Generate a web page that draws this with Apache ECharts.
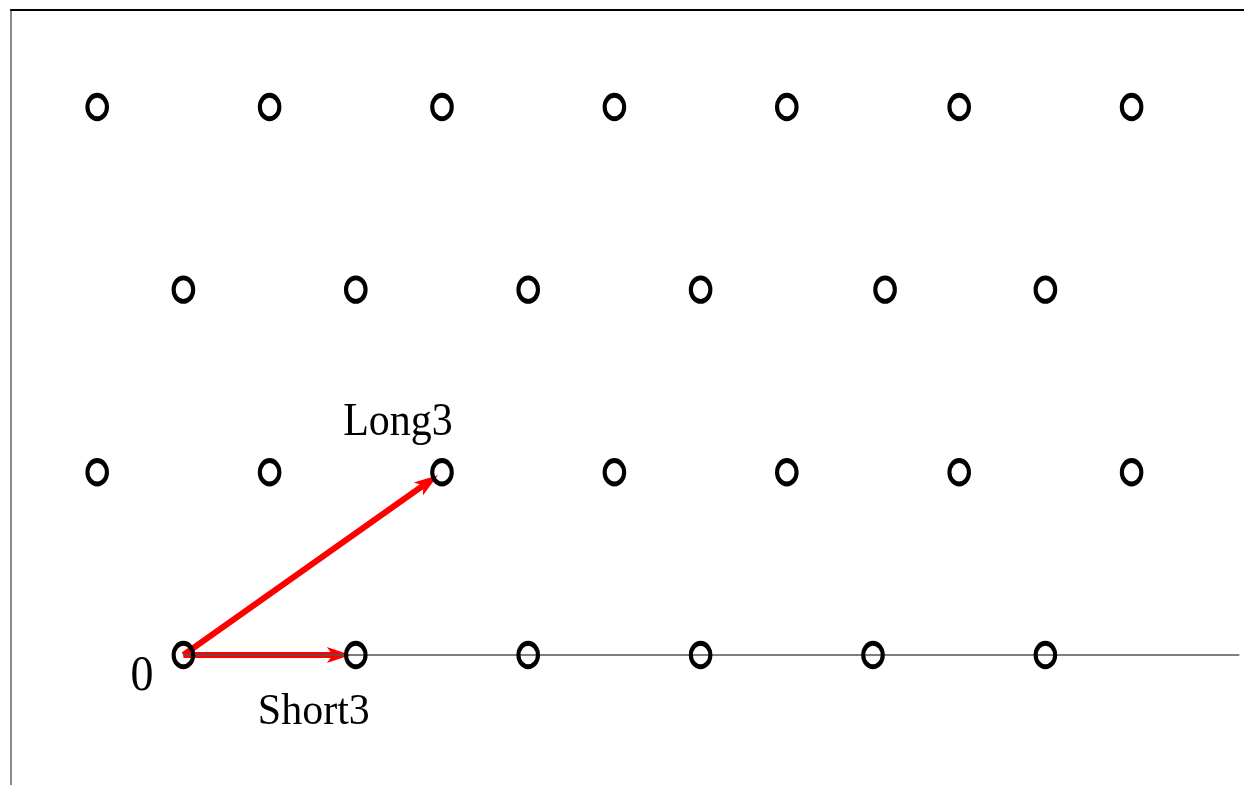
<!DOCTYPE html>
<html><head><meta charset="utf-8">
<script src="https://cdn.jsdelivr.net/npm/echarts@6/dist/echarts.min.js"></script>
<style>html,body{margin:0;padding:0;background:#fff}#chart{width:1244px;height:785px}</style>
</head><body><div id="chart"></div>
<script>
// Lattice points: x in column units, y in row units
const rowYs = [0, 1, 2, 3];
const rowXs = [
  [0, 1, 2, 3, 4, 5],                       // row y = 0
  [-0.5, 0.5, 1.5, 2.5, 3.5, 4.5, 5.5],     // row y = 1
  [0, 1, 2, 3, 4.07, 5],                    // row y = 2
  [-0.5, 0.5, 1.5, 2.5, 3.5, 4.5, 5.5]      // row y = 3
];
// Vectors from origin
const vectorNames = ['Short3', 'Long3'];
const vectorFrom = [[0, 0], [0, 0]];
const vectorTo = [[1, 0], [1.5, 1]];
const originLabel = '0';
const originPoint = [0, 0];
// Horizontal base line
const baseline = [[0, 0], [6.125, 0]];

const points = [];
rowYs.forEach((y, i) => rowXs[i].forEach(x => points.push([x, y])));
const vectors = vectorFrom.map((f, i) => [f[0], f[1], vectorTo[i][0], vectorTo[i][1]]);

// label anchors: [x, y, text, styleIndex]
const labelData = [
  [vectorTo[0][0], vectorTo[0][1], vectorNames[0], 0],
  [vectorTo[1][0], vectorTo[1][1], vectorNames[1], 1],
  [originPoint[0], originPoint[1], originLabel, 2]
];
const labelStyles = [
  {dx: -42, dy: 57, size: 42, sy: 1.05},
  {dx: -44, dy: -50, size: 42, sy: 1.12},
  {dx: -41.5, dy: 22, size: 46, sy: 1.08}
];

const chart = echarts.init(document.getElementById('chart'));
chart.setOption({
  animation: false,
  backgroundColor: '#fff',
  grid: {left: 11, top: 10, right: 0, bottom: 0, containLabel: false, outerBoundsMode: 'none'},
  xAxis: {
    type: 'value', min: -1, max: 6.152, position: 'top',
    axisLine: {show: true, onZero: false, lineStyle: {color: '#000', width: 2}},
    axisTick: {show: false}, axisLabel: {show: false}, splitLine: {show: false}
  },
  yAxis: {
    type: 'value', min: -0.712, max: 3.531, position: 'left',
    axisLine: {show: true, onZero: false, lineStyle: {color: '#888', width: 2}},
    axisTick: {show: false}, axisLabel: {show: false}, splitLine: {show: false}
  },
  series: [
    {
      type: 'custom', z: 1, data: vectors, encode: {x: [0, 2], y: [1, 3]},
      renderItem: function (params, api) {
        const s = api.coord([api.value(0), api.value(1)]);
        const e = api.coord([api.value(2), api.value(3)]);
        const dx = e[0] - s[0], dy = e[1] - s[1];
        const L = Math.hypot(dx, dy), ux = dx / L, uy = dy / L;
        const gap = 5, head = 24, hw = 8, notch = 18;
        const tip = [e[0] - ux * gap, e[1] - uy * gap];
        const back = [tip[0] - ux * head, tip[1] - uy * head];
        const nb = [tip[0] - ux * notch, tip[1] - uy * notch];
        const px = -uy, py = ux;
        return {type: 'group', children: [
          {type: 'line', shape: {x1: s[0], y1: s[1], x2: nb[0], y2: nb[1]},
           style: {stroke: '#ff0000', lineWidth: 6}},
          {type: 'polygon', shape: {points: [tip, [back[0] + px * hw, back[1] + py * hw], nb,
            [back[0] - px * hw, back[1] - py * hw]]}, style: {fill: '#ff0000'}}
        ]};
      }
    },
    {
      type: 'line', z: 2, data: baseline, symbol: 'none', silent: true,
      lineStyle: {color: '#555', width: 1.6}
    },
    {
      type: 'scatter', z: 3, data: points,
      symbol: 'path://M0,-1A1,1,0,1,1,0,1A1,1,0,1,1,0,-1Z',
      symbolSize: [19.5, 23.5], symbolKeepAspect: false,
      itemStyle: {color: 'rgba(0,0,0,0)', borderColor: '#000', borderWidth: 4.5, opacity: 1}
    },
    {
      type: 'custom', z: 4, data: labelData, encode: {x: 0, y: 1},
      renderItem: function (params, api) {
        const p = api.coord([api.value(0), api.value(1)]);
        const st = labelStyles[labelData[params.dataIndex][3]];
        return {
          type: 'text', x: p[0] + st.dx, y: p[1] + st.dy, scaleY: st.sy,
          style: {text: labelData[params.dataIndex][2], font: st.size + 'px "Liberation Serif"',
                  fill: '#000', align: 'center', verticalAlign: 'middle'}
        };
      }
    }
  ]
});
</script></body></html>
